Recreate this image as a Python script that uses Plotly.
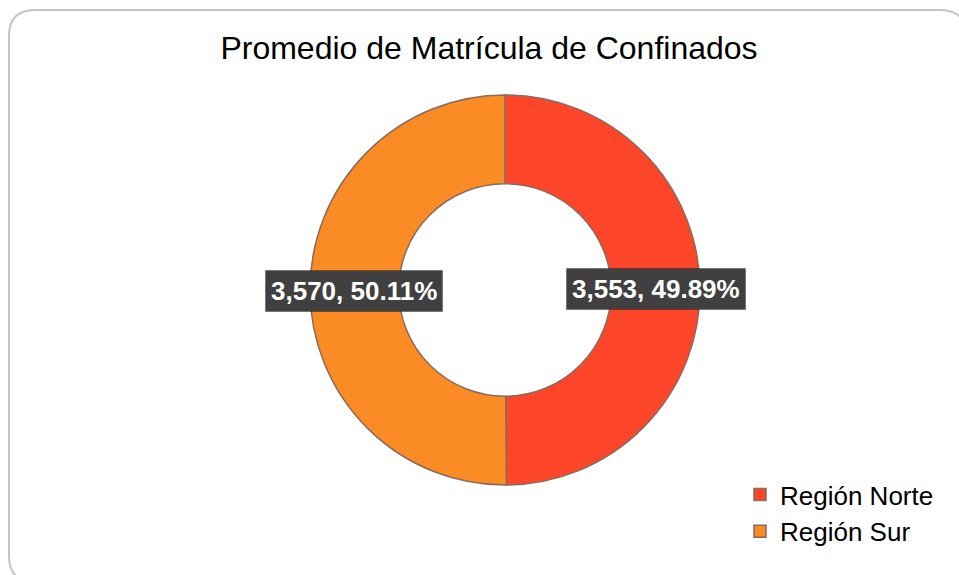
import math
import plotly.graph_objects as go

# ---- data ----
categories = ["Región Norte", "Región Sur"]
values = [3553.4, 3569.6]
colors = ["#FD4629", "#FB8B25"]
title_text = "Promedio de Matrícula de Confinados"

W, H = 959, 575
cx, cy, R = 505, 290, 195
hole = 0.545

fig = go.Figure()
fig.add_trace(go.Pie(
    labels=categories,
    values=values,
    hole=hole,
    sort=False,
    direction="clockwise",
    rotation=0,
    marker=dict(colors=colors, line=dict(color="#8a6a5a", width=1.5)),
    textinfo="none",
    hoverinfo="label+value+percent",
    domain=dict(x=[(cx - R) / W, (cx + R) / W], y=[(H - cy - R) / H, (H - cy + R) / H]),
))

# data labels placed at the mid-angle of each slice
total = sum(values)
start = 0.0
annotations = []
r_mid = R * (1 + hole) / 2
for cat, v in zip(categories, values):
    frac = v / total
    mid = (start + frac / 2) * 2 * math.pi
    start += frac
    px = cx + r_mid * math.sin(mid)
    py = cy - r_mid * math.cos(mid)
    txt = f"<b>{v:,.0f}, {frac*100:.2f}%</b>"
    annotations.append(dict(
        x=px / W, y=1 - py / H, xref="paper", yref="paper",
        text=txt, showarrow=False,
        font=dict(family="Liberation Sans, Arial", size=26, color="white"),
        bgcolor="#404040", borderpad=5,
        bordercolor="rgba(0,0,0,0.25)", borderwidth=1,
        xanchor="center", yanchor="middle",
    ))

# rounded frame
x0, y0, x1, y1, rr = 9, 10, 966, 582, 26
def P(x, y):
    return f"{x / W:.5f},{1 - y / H:.5f}"
path = (f"M {P(x0 + rr, y0)} L {P(x1 - rr, y0)} Q {P(x1, y0)} {P(x1, y0 + rr)} "
        f"L {P(x1, y1 - rr)} Q {P(x1, y1)} {P(x1 - rr, y1)} L {P(x0 + rr, y1)} "
        f"Q {P(x0, y1)} {P(x0, y1 - rr)} L {P(x0, y0 + rr)} Q {P(x0, y0)} {P(x0 + rr, y0)} Z")

fig.update_layout(
    width=W, height=H,
    paper_bgcolor="white", plot_bgcolor="white",
    margin=dict(l=0, r=0, t=0, b=0),
    title=dict(text=title_text, x=489 / W, xanchor="center", y=1 - 48 / H, yanchor="middle",
               font=dict(family="Liberation Sans, Arial", size=32, color="#000000")),
    showlegend=True,
    legend=dict(x=740 / W, y=1 - 471 / H, xanchor="left", yanchor="top",
                font=dict(family="Liberation Sans, Arial", size=26, color="#000000"),
                bgcolor="rgba(0,0,0,0)", traceorder="normal"),
    annotations=annotations,
    shapes=[dict(type="path", path=path, xref="paper", yref="paper",
                 line=dict(color="#c4c4c4", width=2), layer="below")],
)

fig.write_html("out.html", config={"displayModeBar": False},
               post_script="document.body.style.margin='0';document.body.style.overflow='hidden';")
